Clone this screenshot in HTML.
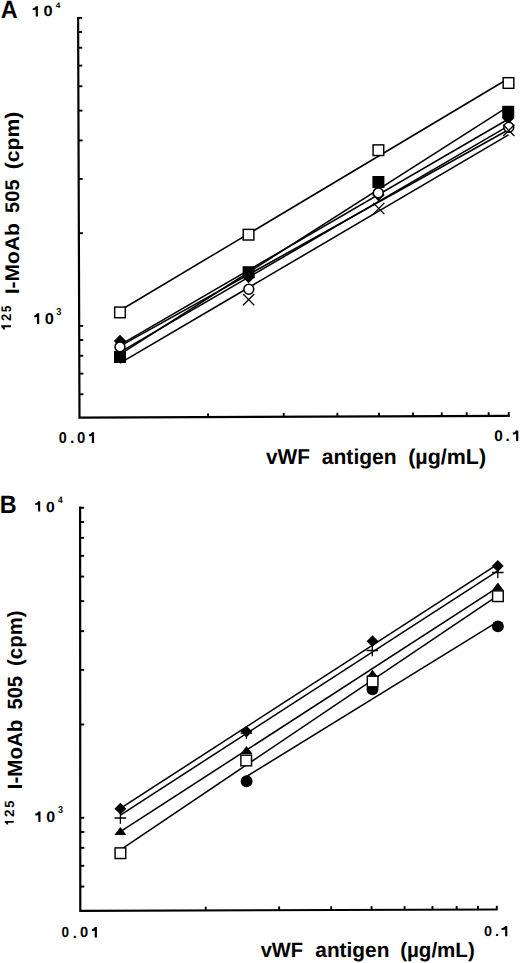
<!DOCTYPE html>
<html><head><meta charset="utf-8"><style>
html,body{margin:0;padding:0;background:#fff;}
svg{display:block;}
text{font-family:"Liberation Sans",sans-serif;font-weight:bold;fill:#000;text-rendering:geometricPrecision;}
</style></head><body>
<svg width="520" height="963" viewBox="0 0 520 963">
<g stroke="#000" fill="none">
<path d="M78.1,16.9 L79.5,417.6 L509.8,415.8" fill="none" stroke-width="2.2" stroke-linecap="butt" stroke-linejoin="miter"/>
<line x1="78.10" y1="17.90" x2="82.10" y2="17.90" stroke-width="1.9"/>
<line x1="78.15" y1="31.99" x2="82.15" y2="31.99" stroke-width="1.9"/>
<line x1="78.21" y1="47.75" x2="82.21" y2="47.75" stroke-width="1.9"/>
<line x1="78.27" y1="65.61" x2="82.27" y2="65.61" stroke-width="1.9"/>
<line x1="78.34" y1="86.23" x2="82.34" y2="86.23" stroke-width="1.9"/>
<line x1="78.43" y1="110.62" x2="82.43" y2="110.62" stroke-width="1.9"/>
<line x1="78.53" y1="140.47" x2="82.53" y2="140.47" stroke-width="1.9"/>
<line x1="78.67" y1="178.95" x2="82.67" y2="178.95" stroke-width="1.9"/>
<line x1="78.86" y1="233.18" x2="82.86" y2="233.18" stroke-width="1.9"/>
<line x1="79.18" y1="325.90" x2="83.18" y2="325.90" stroke-width="1.9"/>
<line x1="79.23" y1="339.99" x2="83.23" y2="339.99" stroke-width="1.9"/>
<line x1="79.28" y1="355.75" x2="83.28" y2="355.75" stroke-width="1.9"/>
<line x1="79.35" y1="373.61" x2="83.35" y2="373.61" stroke-width="1.9"/>
<line x1="79.42" y1="394.23" x2="83.42" y2="394.23" stroke-width="1.9"/>
<line x1="208.09" y1="417.06" x2="208.09" y2="413.36" stroke-width="1.9"/>
<line x1="283.72" y1="416.75" x2="283.72" y2="413.05" stroke-width="1.9"/>
<line x1="337.38" y1="416.52" x2="337.38" y2="412.82" stroke-width="1.9"/>
<line x1="379.01" y1="416.35" x2="379.01" y2="412.65" stroke-width="1.9"/>
<line x1="413.02" y1="416.20" x2="413.02" y2="412.50" stroke-width="1.9"/>
<line x1="441.77" y1="416.08" x2="441.77" y2="412.38" stroke-width="1.9"/>
<line x1="466.68" y1="415.98" x2="466.68" y2="412.28" stroke-width="1.9"/>
<line x1="488.65" y1="415.89" x2="488.65" y2="412.19" stroke-width="1.9"/>
<line x1="508.70" y1="415.80" x2="508.70" y2="412.10" stroke-width="1.9"/>
<path d="M80.1,506.6 L80.3,910.8 L497.7,909.5" fill="none" stroke-width="2.2" stroke-linecap="butt" stroke-linejoin="miter"/>
<line x1="80.10" y1="507.80" x2="84.10" y2="507.80" stroke-width="1.9"/>
<line x1="80.11" y1="521.98" x2="84.11" y2="521.98" stroke-width="1.9"/>
<line x1="80.12" y1="537.84" x2="84.12" y2="537.84" stroke-width="1.9"/>
<line x1="80.12" y1="555.82" x2="84.12" y2="555.82" stroke-width="1.9"/>
<line x1="80.13" y1="576.57" x2="84.13" y2="576.57" stroke-width="1.9"/>
<line x1="80.15" y1="601.12" x2="84.15" y2="601.12" stroke-width="1.9"/>
<line x1="80.16" y1="631.16" x2="84.16" y2="631.16" stroke-width="1.9"/>
<line x1="80.18" y1="669.89" x2="84.18" y2="669.89" stroke-width="1.9"/>
<line x1="80.21" y1="724.48" x2="84.21" y2="724.48" stroke-width="1.9"/>
<line x1="80.25" y1="817.80" x2="84.25" y2="817.80" stroke-width="1.9"/>
<line x1="80.26" y1="831.98" x2="84.26" y2="831.98" stroke-width="1.9"/>
<line x1="80.27" y1="847.84" x2="84.27" y2="847.84" stroke-width="1.9"/>
<line x1="80.28" y1="865.82" x2="84.28" y2="865.82" stroke-width="1.9"/>
<line x1="80.29" y1="886.57" x2="84.29" y2="886.57" stroke-width="1.9"/>
<line x1="205.74" y1="910.41" x2="205.74" y2="906.71" stroke-width="1.9"/>
<line x1="279.12" y1="910.18" x2="279.12" y2="906.48" stroke-width="1.9"/>
<line x1="331.18" y1="910.02" x2="331.18" y2="906.32" stroke-width="1.9"/>
<line x1="371.56" y1="909.89" x2="371.56" y2="906.19" stroke-width="1.9"/>
<line x1="404.56" y1="909.79" x2="404.56" y2="906.09" stroke-width="1.9"/>
<line x1="432.45" y1="909.70" x2="432.45" y2="906.00" stroke-width="1.9"/>
<line x1="456.62" y1="909.63" x2="456.62" y2="905.93" stroke-width="1.9"/>
<line x1="477.93" y1="909.56" x2="477.93" y2="905.86" stroke-width="1.9"/>
<line x1="496.80" y1="909.50" x2="496.80" y2="905.80" stroke-width="1.9"/>
<line x1="120.00" y1="310.50" x2="508.50" y2="78.50" stroke-width="1.55"/>
<line x1="120.00" y1="354.30" x2="508.50" y2="106.40" stroke-width="1.55"/>
<line x1="120.00" y1="344.90" x2="508.50" y2="119.00" stroke-width="1.55"/>
<line x1="120.00" y1="352.10" x2="508.50" y2="125.90" stroke-width="1.55"/>
<line x1="120.00" y1="346.10" x2="508.50" y2="129.80" stroke-width="1.55"/>
<line x1="120.00" y1="363.20" x2="508.50" y2="134.80" stroke-width="1.55"/>
<line x1="120.40" y1="808.40" x2="497.80" y2="564.10" stroke-width="1.55"/>
<line x1="120.40" y1="815.10" x2="497.80" y2="570.80" stroke-width="1.55"/>
<line x1="120.40" y1="831.70" x2="497.80" y2="587.40" stroke-width="1.55"/>
<line x1="120.40" y1="849.80" x2="497.80" y2="595.70" stroke-width="1.55"/>
<line x1="246.60" y1="776.50" x2="497.80" y2="621.60" stroke-width="1.55"/>
</g>
<rect x="114.67" y="307.07" width="10.65" height="10.65" fill="#fff" stroke="#000" stroke-width="1.45"/>
<rect x="243.22" y="229.37" width="10.65" height="10.65" fill="#fff" stroke="#000" stroke-width="1.45"/>
<rect x="373.07" y="144.87" width="10.65" height="10.65" fill="#fff" stroke="#000" stroke-width="1.45"/>
<rect x="503.18" y="77.67" width="10.65" height="10.65" fill="#fff" stroke="#000" stroke-width="1.45"/>
<rect x="114.00" y="351.00" width="12.00" height="12.00" fill="#000" stroke="none"/>
<rect x="242.60" y="266.20" width="12.00" height="12.00" fill="#000" stroke="none"/>
<rect x="372.40" y="176.00" width="12.00" height="12.00" fill="#000" stroke="none"/>
<rect x="502.20" y="105.80" width="12.00" height="12.00" fill="#000" stroke="none"/>
<path d="M120.00,334.80 L126.20,341.00 L120.00,347.20 L113.80,341.00Z" fill="#000" stroke="none"/>
<path d="M248.60,270.80 L254.80,277.00 L248.60,283.20 L242.40,277.00Z" fill="#000" stroke="none"/>
<path d="M378.40,188.80 L384.60,195.00 L378.40,201.20 L372.20,195.00Z" fill="#000" stroke="none"/>
<path d="M508.20,111.80 L514.40,118.00 L508.20,124.20 L502.00,118.00Z" fill="#000" stroke="none"/>
<circle cx="120.00" cy="346.90" r="4.95" fill="#fff" stroke="#000" stroke-width="1.5"/>
<circle cx="248.80" cy="289.20" r="4.95" fill="#fff" stroke="#000" stroke-width="1.5"/>
<circle cx="378.30" cy="192.90" r="4.95" fill="#fff" stroke="#000" stroke-width="1.5"/>
<circle cx="508.80" cy="127.30" r="4.95" fill="#fff" stroke="#000" stroke-width="1.5"/>
<path d="M243.05,294.00 L254.25,305.20 M254.25,294.00 L243.05,305.20" fill="none" stroke="#000" stroke-width="1.3"/>
<path d="M373.20,202.90 L384.40,214.10 M384.40,202.90 L373.20,214.10" fill="none" stroke="#000" stroke-width="1.3"/>
<path d="M503.20,124.80 L514.40,136.00 M514.40,124.80 L503.20,136.00" fill="none" stroke="#000" stroke-width="1.3"/>
<circle cx="246.60" cy="781.30" r="5.95" fill="#000" stroke="none"/>
<circle cx="372.50" cy="689.30" r="5.95" fill="#000" stroke="none"/>
<circle cx="497.90" cy="626.40" r="5.95" fill="#000" stroke="none"/>
<path d="M120.40,827.10 L126.40,835.10 L114.40,835.10Z" fill="#000" stroke="none"/>
<path d="M246.50,746.00 L252.50,754.00 L240.50,754.00Z" fill="#000" stroke="none"/>
<path d="M372.50,669.80 L378.50,677.80 L366.50,677.80Z" fill="#000" stroke="none"/>
<path d="M497.90,582.40 L503.90,590.40 L491.90,590.40Z" fill="#000" stroke="none"/>
<rect x="115.08" y="847.88" width="10.65" height="10.65" fill="#fff" stroke="#000" stroke-width="1.45"/>
<rect x="240.87" y="755.18" width="10.65" height="10.65" fill="#fff" stroke="#000" stroke-width="1.45"/>
<rect x="367.28" y="676.18" width="10.65" height="10.65" fill="#fff" stroke="#000" stroke-width="1.45"/>
<rect x="492.57" y="590.88" width="10.65" height="10.65" fill="#fff" stroke="#000" stroke-width="1.45"/>
<path d="M114.60,818.00 L126.20,818.00 M120.40,812.20 L120.40,823.80" fill="none" stroke="#000" stroke-width="1.3"/>
<path d="M240.60,733.20 L252.20,733.20 M246.40,727.40 L246.40,739.00" fill="none" stroke="#000" stroke-width="1.3"/>
<path d="M366.50,650.50 L378.10,650.50 M372.30,644.70 L372.30,656.30" fill="none" stroke="#000" stroke-width="1.3"/>
<path d="M492.00,572.50 L503.60,572.50 M497.80,566.70 L497.80,578.30" fill="none" stroke="#000" stroke-width="1.3"/>
<path d="M120.40,802.80 L126.30,808.70 L120.40,814.60 L114.50,808.70Z" fill="#000" stroke="none"/>
<path d="M246.40,725.70 L252.30,731.60 L246.40,737.50 L240.50,731.60Z" fill="#000" stroke="none"/>
<path d="M372.50,635.30 L378.40,641.20 L372.50,647.10 L366.60,641.20Z" fill="#000" stroke="none"/>
<path d="M497.80,560.10 L503.70,566.00 L497.80,571.90 L491.90,566.00Z" fill="#000" stroke="none"/>
<g fill="#000">
<text transform="translate(0.72,18.20) scale(0.936,1)" font-size="25.00">A</text>
<text transform="translate(-0.27,512.60) scale(0.932,1)" font-size="25.15">B</text>
<path d="M35.74,6.20 L37.90,6.20 L37.90,16.50 L35.74,16.50 L35.74,9.60 C35.24,9.91 33.30,10.11 32.70,10.11 L32.70,8.26 C33.90,8.26 35.34,7.23 35.74,6.20 Z"/>
<text transform="translate(43.54,16.35) scale(1.097,1)" font-size="14.97">0</text>
<text transform="translate(55.68,7.70) scale(1.046,1)" font-size="7.85">4</text>
<path d="M36.93,313.20 L39.20,313.20 L39.20,324.00 L36.93,324.00 L36.93,316.76 C36.43,317.09 34.85,317.30 34.25,317.30 L34.25,315.36 C35.45,315.36 36.53,314.28 36.93,313.20 Z"/>
<text transform="translate(44.74,324.14) scale(1.047,1)" font-size="15.68">0</text>
<text transform="translate(56.29,315.39) scale(0.911,1)" font-size="10.16">3</text>
<text transform="translate(58.83,443.24) scale(0.913,1)" font-size="15.68">0</text>
<text x="69.98" y="443.40" font-size="15.68">.</text>
<text transform="translate(76.90,443.24) scale(0.953,1)" font-size="15.68">0</text>
<path d="M91.83,432.20 L94.10,432.20 L94.10,443.00 L91.83,443.00 L91.83,435.76 C91.33,436.09 89.60,436.30 89.00,436.30 L89.00,434.36 C90.20,434.36 91.43,433.28 91.83,432.20 Z"/>
<text x="494.29" y="441.25" font-size="15.40">0</text>
<text x="505.57" y="441.30" font-size="15.40">.</text>
<path d="M516.12,430.50 L518.30,430.50 L518.30,440.90 L516.12,440.90 L516.12,433.93 C515.62,434.24 513.40,434.45 512.80,434.45 L512.80,432.58 C514.00,432.58 515.72,431.54 516.12,430.50 Z"/>
<path d="M38.06,501.20 L40.20,501.20 L40.20,511.40 L38.06,511.40 L38.06,504.57 C37.56,504.87 35.90,505.08 35.30,505.08 L35.30,503.24 C36.50,503.24 37.66,502.22 38.06,501.20 Z"/>
<text transform="translate(46.07,511.55) scale(1.065,1)" font-size="14.83">0</text>
<text transform="translate(58.07,502.80) scale(0.889,1)" font-size="9.45">4</text>
<path d="M38.30,811.50 L40.50,811.50 L40.50,822.00 L38.30,822.00 L38.30,814.97 C37.80,815.28 35.90,815.49 35.30,815.49 L35.30,813.60 C36.50,813.60 37.90,812.55 38.30,811.50 Z"/>
<text transform="translate(46.36,822.15) scale(1.049,1)" font-size="15.25">0</text>
<text transform="translate(57.99,813.39) scale(0.892,1)" font-size="10.16">3</text>
<text transform="translate(61.56,937.35) scale(0.917,1)" font-size="14.69">0</text>
<text x="72.82" y="937.50" font-size="14.69">.</text>
<text x="80.02" y="937.35" font-size="14.69">0</text>
<path d="M94.70,927.00 L96.90,927.00 L96.90,937.50 L94.70,937.50 L94.70,930.47 C94.20,930.78 92.60,930.99 92.00,930.99 L92.00,929.10 C93.20,929.10 94.30,928.05 94.70,927.00 Z"/>
<text x="484.02" y="936.26" font-size="14.41">0</text>
<text x="494.95" y="936.30" font-size="14.41">.</text>
<path d="M505.14,926.00 L507.30,926.00 L507.30,936.30 L505.14,936.30 L505.14,929.40 C504.64,929.71 502.20,929.91 501.60,929.91 L501.60,928.06 C502.80,928.06 504.74,927.03 505.14,926.00 Z"/>
<text x="265.92" y="464.00" font-size="21.50" textLength="44.05" lengthAdjust="spacingAndGlyphs">vWF</text>
<text x="321.79" y="464.00" font-size="21.50" textLength="74.91" lengthAdjust="spacingAndGlyphs">antigen</text>
<text x="408.13" y="464.00" font-size="21.50" textLength="77.95" lengthAdjust="spacingAndGlyphs">(µg/mL)</text>
<text x="260.72" y="957.30" font-size="20.80" textLength="42.32" lengthAdjust="spacingAndGlyphs">vWF</text>
<text x="315.30" y="957.30" font-size="20.80" textLength="74.09" lengthAdjust="spacingAndGlyphs">antigen</text>
<text x="400.17" y="957.30" font-size="20.80" textLength="74.61" lengthAdjust="spacingAndGlyphs">(µg/mL)</text>
<text transform="translate(19.20,169.36) rotate(-90)" font-size="19.80" textLength="57.62" lengthAdjust="spacingAndGlyphs">(cpm)</text>
<text transform="translate(19.30,212.92) rotate(-90)" font-size="19.80" textLength="33.49" lengthAdjust="spacingAndGlyphs">505</text>
<text transform="translate(19.40,294.21) rotate(-90)" font-size="19.80" textLength="71.06" lengthAdjust="spacingAndGlyphs">I-MoAb</text>
<path transform="translate(11.00,329.60) rotate(-90)" d="M2.36,-9.70 L4.40,-9.70 L4.40,0.00 L2.36,0.00 L2.36,-6.50 C1.86,-6.21 0.60,-6.01 0.00,-6.01 L0.00,-7.76 C1.20,-7.76 1.96,-8.73 2.36,-9.70 Z"/>
<text transform="translate(11.00,321.06) rotate(-90) scale(0.942,1)" font-size="13.90">2</text>
<text transform="translate(10.86,311.95) rotate(-90) scale(0.811,1)" font-size="13.90">5</text>
<text transform="translate(22.20,665.92) rotate(-90)" font-size="20.60" textLength="55.44" lengthAdjust="spacingAndGlyphs">(cpm)</text>
<text transform="translate(22.30,709.52) rotate(-90)" font-size="20.60" textLength="33.59" lengthAdjust="spacingAndGlyphs">505</text>
<text transform="translate(22.30,789.28) rotate(-90)" font-size="20.60" textLength="69.72" lengthAdjust="spacingAndGlyphs">I-MoAb</text>
<path transform="translate(13.80,824.60) rotate(-90)" d="M1.81,-9.00 L3.70,-9.00 L3.70,0.00 L1.81,0.00 L1.81,-6.03 C1.31,-5.76 0.60,-5.58 0.00,-5.58 L0.00,-7.20 C1.20,-7.20 1.41,-8.10 1.81,-9.00 Z"/>
<text transform="translate(14.00,817.07) rotate(-90) scale(0.993,1)" font-size="13.61">2</text>
<text transform="translate(13.87,807.69) rotate(-90) scale(0.951,1)" font-size="13.32">5</text>
</g>
</svg>
</body></html>
